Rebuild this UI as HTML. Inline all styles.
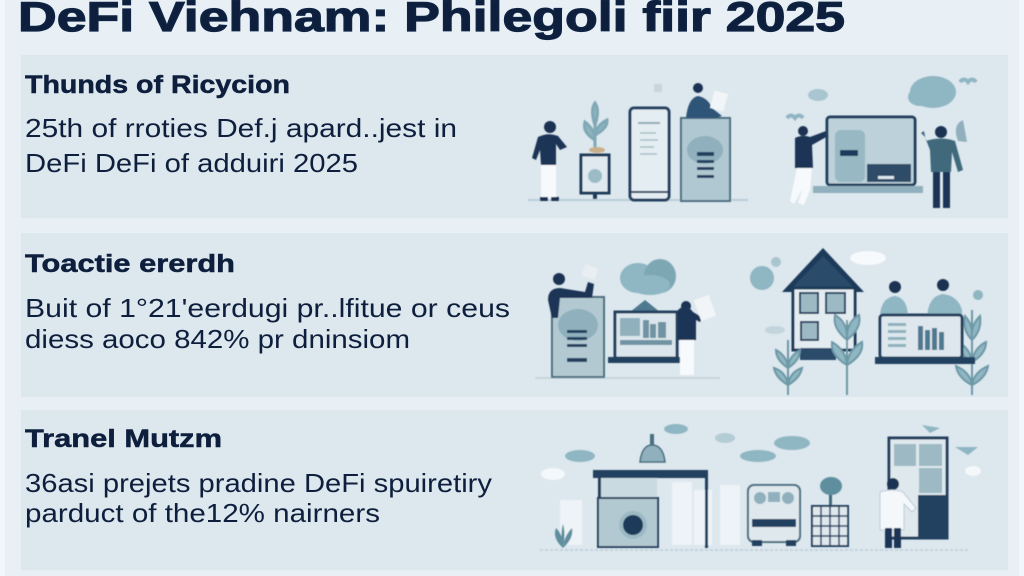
<!DOCTYPE html>
<html>
<head>
<meta charset="utf-8">
<style>
html,body{margin:0;padding:0;background:#e7eff5;}
svg{display:block;}
.t{font-family:"Liberation Sans",sans-serif;fill:#0e1f3d;}
.b{font-weight:bold;}
</style>
</head>
<body>
<svg width="1024" height="576" viewBox="0 0 1024 576" xmlns="http://www.w3.org/2000/svg">
<defs>
<filter id="bl" x="-10%" y="-10%" width="120%" height="120%"><feGaussianBlur stdDeviation="0.6"/></filter>
</defs>
<rect x="0" y="0" width="1024" height="576" fill="#e8f0f6"/>
<rect x="0" y="0" width="5" height="576" fill="#f1f6fa"/>
<rect x="1019" y="0" width="5" height="576" fill="#f1f6fa"/>

<!-- panels -->
<rect x="21" y="55" width="987" height="163" fill="#dde7ee"/>
<rect x="21" y="233" width="987" height="164" fill="#dde7ee"/>
<rect x="21" y="410" width="987" height="160" fill="#dde7ee"/>

<!-- title -->
<text class="t b" x="18" y="31" font-size="42" textLength="827" lengthAdjust="spacingAndGlyphs" fill="#0f2444" stroke="#0f2444" stroke-width="1.2">DeFi Viehnam: Philegoli fiir 2025</text>

<!-- panel 1 text -->
<text class="t b" x="25" y="93" font-size="25" textLength="265" lengthAdjust="spacingAndGlyphs" stroke="#0e1f3d" stroke-width="0.5">Thunds of Ricycion</text>
<text class="t" x="25" y="137" font-size="26" textLength="432" lengthAdjust="spacingAndGlyphs">25th of rroties Def.j apard..jest in</text>
<text class="t" x="25" y="172" font-size="26" textLength="333" lengthAdjust="spacingAndGlyphs">DeFi DeFi of adduiri 2025</text>

<!-- panel 2 text -->
<text class="t b" x="25" y="272" font-size="25" textLength="210" lengthAdjust="spacingAndGlyphs" stroke="#0e1f3d" stroke-width="0.5">Toactie ererdh</text>
<text class="t" x="25" y="317" font-size="26" textLength="485" lengthAdjust="spacingAndGlyphs">Buit of 1°21'eerdugi pr..lfitue or ceus</text>
<text class="t" x="25" y="348" font-size="26" textLength="385" lengthAdjust="spacingAndGlyphs">diess aoco 842% pr dninsiom</text>

<!-- panel 3 text -->
<text class="t b" x="25" y="447" font-size="25" textLength="197" lengthAdjust="spacingAndGlyphs" stroke="#0e1f3d" stroke-width="0.5">Tranel Mutzm</text>
<text class="t" x="25" y="492" font-size="26" textLength="467" lengthAdjust="spacingAndGlyphs">36asi prejets pradine DeFi spuiretiry</text>
<text class="t" x="25" y="522" font-size="26" textLength="355" lengthAdjust="spacingAndGlyphs">parduct of the12% nairners</text>

<g filter="url(#bl)">
<!-- ============ PANEL 1 ILLUSTRATIONS ============ -->
<line x1="528" y1="200" x2="748" y2="200" stroke="#b9ccd7" stroke-width="2"/>
<!-- person 1 -->
<circle cx="550" cy="127" r="6" fill="#1c3352"/>
<path d="M538 137 Q548 132 558 136 L567 147 L560 150 L556 144 L556 165 L541 165 L540 150 L536 160 L532 158 Z" fill="#1e3656"/>
<rect x="541" y="165" width="15" height="34" fill="#f7fafc"/>
<rect x="540" y="197" width="8" height="4" fill="#1c3352"/><rect x="551" y="197" width="8" height="4" fill="#1c3352"/>
<!-- plant stand -->
<rect x="581" y="155" width="28" height="38" fill="#dfe9ef" stroke="#1f3a5a" stroke-width="3"/>
<circle cx="595" cy="176" r="7" fill="#9bbcc7"/>
<rect x="593" y="193" width="4" height="6" fill="#1f3a5a"/>
<path d="M595 150 L595 118 M595 140 Q582 132 585 122 Q595 130 595 140 M595 135 Q608 128 607 120 Q597 125 595 135 M595 125 Q590 110 595 103 Q600 110 595 125" stroke="#7fa9b5" stroke-width="3" fill="#8fb5c0"/>
<ellipse cx="597" cy="150" rx="8" ry="3" fill="#c9b08a"/>
<!-- phone -->
<rect x="630" y="108" width="39" height="92" rx="4" fill="#e4edf2" stroke="#23405f" stroke-width="3"/>
<line x1="638" y1="123" x2="660" y2="123" stroke="#8fa9b8" stroke-width="2"/>
<line x1="640" y1="133" x2="656" y2="133" stroke="#a7bdc9" stroke-width="1.5"/>
<line x1="640" y1="140" x2="658" y2="140" stroke="#a7bdc9" stroke-width="1.5"/>
<line x1="640" y1="147" x2="654" y2="147" stroke="#a7bdc9" stroke-width="1.5"/>
<line x1="640" y1="154" x2="657" y2="154" stroke="#a7bdc9" stroke-width="1.5"/>
<line x1="630" y1="192" x2="669" y2="192" stroke="#23405f" stroke-width="2"/>
<!-- tall box with person -->
<rect x="681" y="118" width="49" height="83" fill="#b0c8d1" stroke="#4b6e80" stroke-width="2"/>
<ellipse cx="705" cy="150" rx="18" ry="14" fill="#8fb0bc"/>
<rect x="697" y="152" width="17" height="4" fill="#23405f"/>
<rect x="697" y="160" width="17" height="3" fill="#23405f"/>
<rect x="697" y="167" width="17" height="3" fill="#23405f"/>
<rect x="697" y="175" width="17" height="3" fill="#23405f"/>
<circle cx="698" cy="88" r="5" fill="#1c3352"/>
<path d="M686 118 Q688 98 698 96 Q708 98 712 108 L722 116 L716 118 Z" fill="#2e5578"/>
<rect x="712" y="92" width="14" height="18" fill="#f1f5f8" transform="rotate(15 719 101)"/>
<rect x="654" y="84" width="8" height="8" fill="#c7d6de"/>
<!-- person 2 -->
<circle cx="803" cy="131" r="5" fill="#1c3352"/>
<path d="M795 138 Q803 134 810 137 L826 131 L828 136 L812 145 L813 168 L795 168 Z" fill="#1e3656"/>
<path d="M797 168 L812 168 L810 190 L804 205 L798 203 L803 188 L794 204 L790 201 Z" fill="#f7fafc"/>
<!-- monitor -->
<rect x="827" y="117" width="88" height="68" rx="3" fill="#bcd1d9" stroke="#23405f" stroke-width="3"/>
<rect x="835" y="130" width="30" height="52" rx="6" fill="#98b8c3"/>
<rect x="840" y="150" width="18" height="6" fill="#1f3a5a"/>
<rect x="867" y="164" width="44" height="18" fill="#2d4b68"/>
<rect x="878" y="176" width="16" height="3" fill="#dde7ee"/>
<rect x="813" y="186" width="110" height="7" fill="#8fb0bc"/>
<!-- person 3 -->
<circle cx="941" cy="132" r="6" fill="#1c3352"/>
<path d="M926 141 Q941 136 955 141 L963 170 L958 172 L952 152 L951 172 L931 172 L930 150 L925 137 L921 133 L924 131 Z" fill="#3f6b7c"/>
<rect x="933" y="172" width="7" height="36" fill="#1e3656"/><rect x="943" y="172" width="7" height="36" fill="#1e3656"/>
<!-- clouds -->
<ellipse cx="933" cy="92" rx="23" ry="16" fill="#8fb6c3"/>
<ellipse cx="920" cy="97" rx="12" ry="9" fill="#8fb6c3"/>
<ellipse cx="818" cy="95" rx="10" ry="6" fill="#a9c5cf"/>
<path d="M958 141 Q952 125 963 120 L967 142 Z" fill="#8fb0bc"/>
<path d="M960 82 q4 -5 8 0 q4 -5 8 0" stroke="#8fb6c3" stroke-width="4" fill="none"/>
<path d="M787 118 q4 -5 8 0 q4 -5 8 0" stroke="#8fb6c3" stroke-width="4" fill="none"/>

<!-- ============ PANEL 2 ILLUSTRATIONS ============ -->
<line x1="535" y1="378" x2="720" y2="378" stroke="#c5d4dd" stroke-width="2"/>
<!-- tall box with person -->
<rect x="552" y="297" width="52" height="80" fill="#b2c9d2" stroke="#4b6e80" stroke-width="2"/>
<ellipse cx="578" cy="325" rx="20" ry="16" fill="#8fb0bc"/>
<rect x="567" y="330" width="20" height="3" fill="#23405f"/>
<rect x="567" y="337" width="20" height="3" fill="#23405f"/>
<rect x="567" y="344" width="20" height="3" fill="#23405f"/>
<rect x="567" y="358" width="20" height="4" fill="#23405f"/>
<circle cx="559" cy="279" r="6" fill="#1c3352"/>
<path d="M548 300 Q548 288 560 288 Q572 290 585 292 L588 282 L594 284 L592 298 L560 298 L558 318 L552 318 Z" fill="#1e3656"/>
<rect x="583" y="266" width="14" height="12" fill="#e9eef2" transform="rotate(20 590 272)"/>
<!-- cloud -->
<ellipse cx="638" cy="278" rx="18" ry="15" fill="#8fb6c3"/>
<ellipse cx="660" cy="276" rx="16" ry="17" fill="#7ea7b4"/>
<ellipse cx="650" cy="285" rx="20" ry="10" fill="#8fb6c3"/>
<!-- monitor -->
<path d="M630 312 L645 300 L660 312 Z" fill="#4f7891"/>
<rect x="615" y="312" width="62" height="46" fill="#dbe6ec" stroke="#23405f" stroke-width="3"/>
<rect x="620" y="318" width="20" height="18" fill="#8fb0bc"/>
<rect x="643" y="320" width="6" height="18" fill="#6f94a3"/>
<rect x="650" y="324" width="6" height="14" fill="#6f94a3"/>
<rect x="658" y="322" width="8" height="16" fill="#6f94a3"/>
<rect x="620" y="340" width="52" height="5" fill="#6f94a3"/>
<rect x="608" y="357" width="72" height="6" fill="#23405f"/>
<!-- woman -->
<circle cx="686" cy="306" r="5" fill="#1c3352"/>
<path d="M678 310 Q686 302 693 312 L703 318 L700 322 L696 320 L696 340 L678 340 Z" fill="#1e3656"/>
<rect x="680" y="340" width="14" height="35" fill="#f7fafc"/>
<rect x="697" y="297" width="16" height="22" fill="#f1f5f8" transform="rotate(-20 705 308)"/>
<!-- teal circles -->
<circle cx="762" cy="278" r="12" fill="#8fb6c3"/>
<circle cx="776" cy="262" r="5" fill="#a9c5cf"/>
<ellipse cx="775" cy="330" rx="10" ry="4" fill="#c2d4dc"/>
<!-- house -->
<path d="M782 292 L823 248 L864 292 Z" fill="#1f3a5a"/>
<path d="M792 288 L823 256 L854 288 Z" fill="#2c4b6b"/>
<rect x="793" y="288" width="62" height="62" fill="#e3ecf1" stroke="#1f3a5a" stroke-width="3"/>
<rect x="800" y="293" width="18" height="20" fill="#9cb9c4" stroke="#23405f" stroke-width="2"/>
<rect x="826" y="293" width="19" height="20" fill="#9cb9c4" stroke="#23405f" stroke-width="2"/>
<rect x="801" y="322" width="17" height="18" fill="#9cb9c4" stroke="#23405f" stroke-width="2"/>
<rect x="800" y="348" width="36" height="12" fill="#2c4b6b"/>
<ellipse cx="868" cy="258" rx="18" ry="7" fill="#f7fafc"/>
<!-- plants -->
<g stroke="#6d98a6" stroke-width="2" fill="#8fb6c3">
<line x1="788" y1="395" x2="788" y2="340"/>
<path d="M788 385 Q776 378 774 368 Q786 372 788 385"/><path d="M788 385 Q800 378 802 368 Q790 372 788 385"/>
<path d="M788 368 Q776 360 776 350 Q787 356 788 368"/><path d="M788 368 Q800 360 800 350 Q789 356 788 368"/>
<line x1="847" y1="395" x2="847" y2="320"/>
<path d="M847 340 Q832 328 835 315 Q848 322 847 340"/><path d="M847 340 Q862 328 859 315 Q846 322 847 340"/>
<path d="M847 365 Q830 355 832 342 Q846 350 847 365"/><path d="M847 365 Q864 355 862 342 Q848 350 847 365"/>
<line x1="972" y1="395" x2="972" y2="310"/>
<path d="M972 385 Q958 378 956 366 Q970 372 972 385"/><path d="M972 385 Q986 378 988 366 Q974 372 972 385"/>
<path d="M972 362 Q958 354 958 342 Q970 348 972 362"/><path d="M972 362 Q986 354 986 342 Q974 348 972 362"/>
<path d="M972 340 Q962 330 965 316 Q974 326 972 340"/><path d="M972 340 Q982 330 980 316 Q970 326 972 340"/>
</g>
<!-- persons behind laptop -->
<circle cx="895" cy="287" r="6" fill="#1c3352"/>
<path d="M880 318 Q880 298 895 296 Q908 298 908 318 Z" fill="#8fb6c3"/>
<circle cx="943" cy="285" r="6" fill="#1c3352"/>
<path d="M927 318 Q928 296 943 294 Q958 296 962 310 L962 318 Z" fill="#8fb6c3"/>
<!-- laptop -->
<rect x="880" y="315" width="82" height="43" rx="3" fill="#dde7ed" stroke="#23405f" stroke-width="3"/>
<rect x="888" y="323" width="18" height="3" fill="#8fb0bc"/>
<rect x="888" y="330" width="18" height="3" fill="#8fb0bc"/>
<rect x="888" y="337" width="18" height="3" fill="#8fb0bc"/>
<rect x="888" y="344" width="18" height="3" fill="#8fb0bc"/>
<rect x="918" y="326" width="5" height="24" fill="#4f7891"/>
<rect x="925" y="330" width="5" height="20" fill="#4f7891"/>
<rect x="932" y="328" width="5" height="22" fill="#4f7891"/>
<rect x="939" y="332" width="5" height="18" fill="#4f7891"/>
<rect x="875" y="357" width="100" height="7" fill="#23405f"/>
<circle cx="978" cy="295" r="5" fill="#8fb6c3"/>

<!-- ============ PANEL 3 ILLUSTRATIONS ============ -->
<line x1="540" y1="550" x2="970" y2="550" stroke="#c2d3dc" stroke-width="2" stroke-dasharray="3 2"/>
<!-- faint buildings -->
<rect x="560" y="500" width="22" height="45" fill="#edf3f7"/>
<rect x="672" y="482" width="20" height="63" fill="#edf3f7"/>
<rect x="694" y="490" width="18" height="55" fill="#edf3f7"/>
<rect x="720" y="485" width="20" height="60" fill="#edf3f7"/>
<!-- white cloud -->
<ellipse cx="553" cy="474" rx="12" ry="6" fill="#f4f8fa"/>
<!-- clouds -->
<ellipse cx="580" cy="456" rx="15" ry="6" fill="#8fb6c3"/>
<ellipse cx="676" cy="429" rx="12" ry="5" fill="#8fb6c3"/>
<ellipse cx="758" cy="456" rx="18" ry="6" fill="#8fb6c3"/>
<ellipse cx="792" cy="443" rx="18" ry="7" fill="#8fb6c3"/>
<ellipse cx="725" cy="438" rx="10" ry="5" fill="#b4ccd5"/>
<!-- robot -->
<path d="M640 462 Q642 445 652 445 Q663 445 665 462 Z" fill="#8fb0bc" stroke="#4b6e80" stroke-width="1.5"/>
<rect x="650" y="434" width="4" height="11" fill="#4b6e80"/>
<!-- market stall -->
<rect x="593" y="470" width="115" height="8" fill="#23405f"/>
<rect x="598" y="478" width="3" height="70" fill="#23405f"/>
<rect x="705" y="478" width="3" height="70" fill="#23405f"/>
<rect x="601" y="478" width="56" height="20" fill="#c9dae1"/>
<rect x="598" y="498" width="60" height="49" fill="#b2c9d2" stroke="#23405f" stroke-width="2"/>
<circle cx="633" cy="525" r="14" fill="#9cb9c4"/>
<circle cx="633" cy="525" r="10" fill="#1f3a5a"/>
<!-- plant -->
<path d="M563 548 Q552 538 556 528 Q564 536 563 548 M563 548 Q574 538 572 528 Q564 536 563 548 M563 548 Q560 534 563 524 Q566 534 563 548" fill="#5f8f9e"/>
<!-- machine -->
<rect x="748" y="485" width="52" height="57" rx="6" fill="#dfe8ed" stroke="#4b6e80" stroke-width="2"/>
<circle cx="760" cy="498" r="6" fill="#8fb0bc"/>
<circle cx="788" cy="498" r="6" fill="#8fb0bc"/>
<rect x="768" y="492" width="12" height="10" fill="#8fb0bc"/>
<rect x="752" y="519" width="44" height="8" fill="#23405f"/>
<rect x="752" y="540" width="10" height="6" fill="#23405f"/><rect x="786" y="540" width="10" height="6" fill="#23405f"/>
<!-- tree + grid box -->
<rect x="829" y="485" width="3" height="22" fill="#3f6b7c"/>
<ellipse cx="831" cy="486" rx="11" ry="9" fill="#5f8f9e"/>
<rect x="812" y="506" width="36" height="40" fill="#dfe8ed" stroke="#23405f" stroke-width="2"/>
<g stroke="#23405f" stroke-width="1.5">
<line x1="821" y1="506" x2="821" y2="546"/><line x1="830" y1="506" x2="830" y2="546"/><line x1="839" y1="506" x2="839" y2="546"/>
<line x1="812" y1="516" x2="848" y2="516"/><line x1="812" y1="526" x2="848" y2="526"/><line x1="812" y1="536" x2="848" y2="536"/>
</g>
<!-- kiosk -->
<rect x="889" y="438" width="58" height="100" fill="#dfe8ed" stroke="#23405f" stroke-width="3"/>
<rect x="894" y="444" width="22" height="22" fill="#9cb9c4"/>
<rect x="919" y="444" width="23" height="22" fill="#9cb9c4"/>
<rect x="919" y="468" width="23" height="25" fill="#9cb9c4"/>
<rect x="918" y="495" width="29" height="43" fill="#23405f"/>
<path d="M922 425 L940 428 L930 433 Z" fill="#8fb6c3"/>
<path d="M955 447 L978 447 L968 455 Z" fill="#8fb6c3"/>
<ellipse cx="973" cy="471" rx="8" ry="5" fill="#f4f8fa"/>
<!-- person in white coat -->
<circle cx="893" cy="484" r="6" fill="#1c3352"/>
<path d="M880 492 Q893 488 903 492 L916 508 L912 512 L904 504 L904 530 L880 530 Z" fill="#f4f8fa" stroke="#b9ccd7" stroke-width="1"/>
<rect x="885" y="528" width="7" height="20" fill="#1e3656"/><rect x="894" y="528" width="7" height="20" fill="#1e3656"/>
</g>
</svg>
</body>
</html>
